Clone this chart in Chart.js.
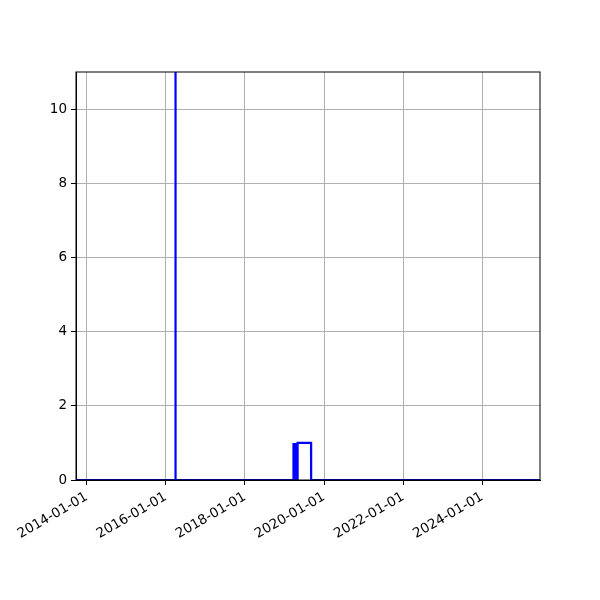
<!DOCTYPE html>
<html>
<head>
<meta charset="utf-8">
<script src="https://cdn.jsdelivr.net/npm/chart.js@4.4.1/dist/chart.umd.min.js"></script>
<style>
  html, body { margin: 0; padding: 0; background: #fff; }
  #wrap { width: 600px; height: 600px; }
</style>
</head>
<body>
<div id="wrap"><canvas id="grafico"></canvas></div>
<script>
// daily counts, only the days where the line turns
var dates = ["2013-09-24", "2016-03-28", "2016-03-30", "2016-04-01",
    "2019-03-22", "2019-03-23", "2019-03-27", "2019-03-31", "2019-04-04",
    "2019-04-08", "2019-04-12", "2019-04-16", "2019-04-20", "2019-04-24",
    "2019-04-28", "2019-05-02", "2019-09-03", "2019-09-04", "2025-06-17"];
var counts = [0, 0, 25, 0,
    0, 1, 0, 1, 0,
    1, 0, 1, 0, 1,
    0, 1, 1, 0, 0];
var xTicks = ["2014-01-01", "2016-01-01", "2018-01-01", "2020-01-01", "2022-01-01", "2024-01-01"];
var yTicks = [0, 2, 4, 6, 8, 10];
var xMin = "2013-09-24", xMax = "2025-06-17";
var yMin = 0, yMax = 11;

function toMs(s) {
    var p = s.split("-");
    return Date.UTC(+p[0], +p[1] - 1, +p[2]);
}
function pad2(n) { return (n < 10 ? "0" : "") + n; }
function fmtDate(ms) {
    var d = new Date(ms);
    return d.getUTCFullYear() + "-" + pad2(d.getUTCMonth() + 1) + "-" + pad2(d.getUTCDate());
}

var points = dates.map(function (d, i) { return { x: toMs(d), y: counts[i] }; });

var frame = {
    id: 'frame',
    afterDraw: function (chart) {
        var a = chart.chartArea, ctx = chart.ctx;
        ctx.save();
        ctx.strokeStyle = '#000';
        ctx.lineWidth = 1;
        ctx.strokeRect(a.left, a.top, a.right - a.left, a.bottom - a.top);
        ctx.restore();
    }
};

var font = { family: "'DejaVu Sans', sans-serif", size: 13.5 };

var ctx = document.getElementById('grafico').getContext('2d');
var myChart = new Chart(ctx, {
    type: 'line',
    data: {
        datasets: [{
            data: points,
            borderColor: '#0000ff',
            borderWidth: 2.2,
            pointRadius: 0,
            tension: 0,
            fill: false
        }]
    },
    options: {
        responsive: true,
        maintainAspectRatio: false,
        animation: false,
        layout: { padding: { top: 72, right: 60, left: 0, bottom: 0 } },
        plugins: { legend: { display: false }, tooltip: { enabled: false } },
        scales: {
            x: {
                type: 'linear',
                min: toMs(xMin),
                max: toMs(xMax),
                afterBuildTicks: function (scale) {
                    scale.ticks = xTicks.map(function (t) { return { value: toMs(t) }; });
                },
                afterFit: function (scale) { scale.height = 120; },
                ticks: {
                    autoSkip: false,
                    minRotation: 30,
                    maxRotation: 30,
                    padding: 4,
                    color: '#000',
                    font: font,
                    callback: function (v) { return fmtDate(v); }
                },
                grid: { color: '#b0b0b0', lineWidth: 1, tickColor: '#000', tickLength: 5 },
                border: { color: '#000' }
            },
            y: {
                min: yMin,
                max: yMax,
                afterBuildTicks: function (scale) {
                    scale.ticks = yTicks.map(function (t) { return { value: t }; });
                },
                afterFit: function (scale) { scale.width = 76; },
                ticks: { color: '#000', font: font, padding: 4 },
                grid: { color: '#b0b0b0', lineWidth: 1, tickColor: '#000', tickLength: 5 },
                border: { color: '#000' }
            }
        }
    },
    plugins: [frame]
});
</script>
</body>
</html>
